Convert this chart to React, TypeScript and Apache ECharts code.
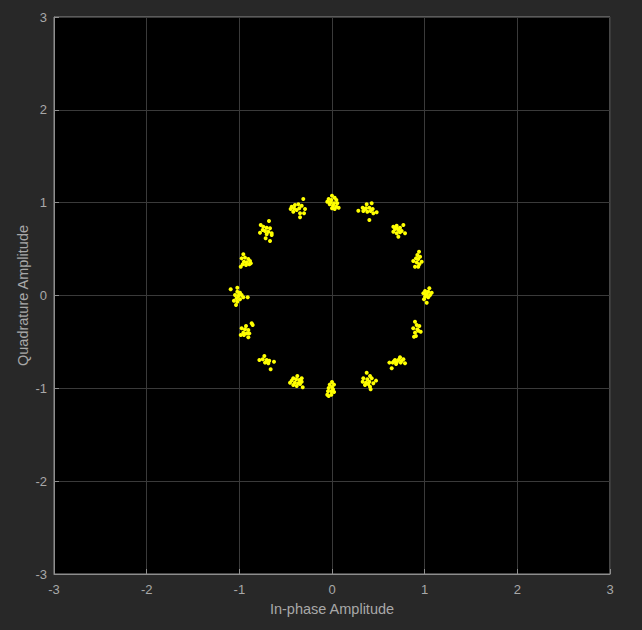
import React, { useEffect, useRef } from "react";
import * as echarts from "echarts";

const axisTicks = [-3, -2, -1, 0, 1, 2, 3];
const xAxisName = "In-phase Amplitude";
const yAxisName = "Quadrature Amplitude";

const c000: number[][] = [[1.004, 0.048], [1.039, 0.041], [0.986, 0.024], [1.022, 0.016], [1.058, 0.005], [1.076, 0.03], [1.004, -0.013], [1.039, -0.019], [0.993, -0.041], [1.022, -0.078], [1.014, 0.005], [1.05, 0.078]];
const c022: number[][] = [[0.939, 0.472], [0.921, 0.436], [0.95, 0.418], [0.906, 0.4], [0.931, 0.393], [0.968, 0.364], [0.877, 0.372], [0.914, 0.357], [0.942, 0.336], [0.896, 0.31], [0.931, 0.31]];
const c045: number[][] = [[0.662, 0.741], [0.698, 0.752], [0.734, 0.73], [0.77, 0.76], [0.68, 0.716], [0.716, 0.706], [0.752, 0.695], [0.788, 0.67], [0.662, 0.687], [0.698, 0.67], [0.734, 0.681], [0.716, 0.634], [0.698, 0.73]];
const c067: number[][] = [[0.374, 0.982], [0.428, 0.993], [0.331, 0.946], [0.367, 0.939], [0.403, 0.946], [0.439, 0.932], [0.482, 0.896], [0.284, 0.914], [0.338, 0.91], [0.381, 0.903], [0.417, 0.91], [0.403, 0.813], [0.446, 0.885], [0.356, 0.932]];
const c090: number[][] = [[0, 1.075], [0.029, 1.054], [-0.036, 1.04], [-0.007, 1.029], [0.047, 1.029], [-0.051, 1.011], [-0.014, 1.004], [0.022, 0.993], [0.057, 0.993], [-0.025, 0.982], [0.011, 0.967], [0.047, 0.957], [0.072, 0.946], [0.029, 0.932], [0, 0.939]];
const c112: number[][] = [[-0.31, 1.04], [-0.435, 0.957], [-0.4, 0.975], [-0.363, 0.982], [-0.327, 0.967], [-0.291, 0.932], [-0.381, 0.921], [-0.418, 0.903], [-0.345, 0.885], [-0.302, 0.885], [-0.345, 0.842], [-0.41, 0.939], [-0.353, 0.939], [-0.446, 0.932]];
const c135: number[][] = [[-0.68, 0.803], [-0.769, 0.76], [-0.741, 0.741], [-0.705, 0.73], [-0.669, 0.724], [-0.748, 0.706], [-0.723, 0.695], [-0.687, 0.687], [-0.651, 0.67], [-0.705, 0.659], [-0.651, 0.652], [-0.716, 0.616], [-0.669, 0.587], [-0.777, 0.677]];
const c157: number[][] = [[-0.957, 0.444], [-0.975, 0.4], [-0.939, 0.408], [-0.903, 0.393], [-0.885, 0.372], [-0.95, 0.364], [-0.921, 0.357], [-0.892, 0.336], [-0.964, 0.336], [-0.985, 0.31], [-0.928, 0.329], [-0.877, 0.347]];
const c180: number[][] = [[-1.093, 0.067], [-1.022, 0.084], [-1.022, 0.041], [-0.993, 0.03], [-1.047, 0.005], [-1.011, -0.005], [-0.975, 0.005], [-1.029, -0.03], [-0.993, -0.041], [-1.058, -0.056], [-0.957, -0.019], [-1.036, -0.102], [-0.91, -0.019], [-1.0, 0.016], [-1.022, -0.067]];
const c202: number[][] = [[-0.867, -0.3], [-0.928, -0.329], [-0.975, -0.353], [-0.939, -0.364], [-0.903, -0.372], [-0.957, -0.4], [-0.921, -0.408], [-0.985, -0.426], [-0.95, -0.426], [-0.892, -0.408], [-0.903, -0.45], [-0.856, -0.318]];
const c225: number[][] = [[-0.73, -0.652], [-0.784, -0.695], [-0.748, -0.687], [-0.705, -0.695], [-0.677, -0.702], [-0.723, -0.723], [-0.687, -0.73], [-0.626, -0.713], [-0.662, -0.795], [-0.705, -0.713]];
const c247: number[][] = [[-0.374, -0.867], [-0.327, -0.892], [-0.418, -0.892], [-0.388, -0.903], [-0.353, -0.91], [-0.435, -0.917], [-0.453, -0.939], [-0.4, -0.939], [-0.363, -0.946], [-0.327, -0.928], [-0.418, -0.964], [-0.381, -0.975], [-0.316, -0.989], [-0.345, -0.953]];
const c270: number[][] = [[0, -0.932], [-0.025, -0.96], [0.022, -0.96], [0, -0.986], [-0.036, -0.996], [0.011, -1.011], [-0.043, -1.032], [-0.007, -1.032], [0.022, -1.04], [-0.051, -1.068], [-0.007, -1.068], [-0.036, -1.083]];
const c292: number[][] = [[0.374, -0.832], [0.41, -0.867], [0.338, -0.892], [0.381, -0.903], [0.428, -0.892], [0.331, -0.928], [0.367, -0.939], [0.403, -0.928], [0.475, -0.917], [0.446, -0.946], [0.356, -0.964], [0.41, -0.982], [0.417, -1.01], [0.392, -0.953]];
const c315: number[][] = [[0.734, -0.666], [0.77, -0.687], [0.68, -0.695], [0.716, -0.695], [0.752, -0.702], [0.788, -0.73], [0.619, -0.723], [0.655, -0.723], [0.698, -0.723], [0.741, -0.723], [0.644, -0.784], [0.691, -0.738], [0.669, -0.709]];
const c337: number[][] = [[0.896, -0.282], [0.914, -0.318], [0.942, -0.329], [0.877, -0.353], [0.921, -0.364], [0.957, -0.39], [0.896, -0.4], [0.931, -0.379], [0.906, -0.436], [0.885, -0.444]];

const clusters = [c000, c022, c045, c067, c090, c112, c135, c157, c180, c202, c225, c247, c270, c292, c315, c337];

const labelColor = "#a8a8a8";
const fontFamily = "Liberation Sans, Arial, Helvetica, sans-serif";

export default function App() {
  const ref = useRef<HTMLDivElement>(null);
  useEffect(() => {
    if (!ref.current) return;
    const chart = echarts.init(ref.current, null, { renderer: "svg" });
    const points = clusters.reduce((acc: number[][], c) => acc.concat(c), []);
    const makeAxis = (name: string, isY: boolean) => ({
      type: "value",
      min: axisTicks[0],
      max: axisTicks[axisTicks.length - 1],
      interval: 1,
      name,
      nameLocation: "middle",
      nameGap: isY ? 24 : 27,
      nameMoveOverlap: false,
      nameTextStyle: { color: labelColor, fontSize: 14.5, fontFamily },
      axisLine: { show: true, onZero: false, lineStyle: { color: "#8e8e8e", width: 1 } },
      axisTick: { show: true, inside: true, length: 5, lineStyle: { color: "#8e8e8e" } },
      axisLabel: { color: labelColor, fontSize: 13, fontFamily, margin: isY ? 7 : 9 },
      splitLine: { show: true, lineStyle: { color: "#3a3a3a", width: 1 } },
    });
    chart.setOption({
      animation: false,
      backgroundColor: "#282828",
      grid: {
        left: 54,
        top: 17,
        width: 556,
        height: 557,
        show: true,
        backgroundColor: "#000000",
        borderColor: "#8e8e8e",
        borderWidth: 1,
      },
      xAxis: makeAxis(xAxisName, false),
      yAxis: makeAxis(yAxisName, true),
      series: [
        {
          type: "scatter",
          data: points,
          symbol: "circle",
          symbolSize: 4,
          itemStyle: { color: "#ffff00", opacity: 1 },
        },
      ],
    });
    return () => chart.dispose();
  }, []);
  return (
    <div
      ref={ref}
      style={{ position: "fixed", left: 0, top: 0, width: 642, height: 630 }}
    />
  );
}
